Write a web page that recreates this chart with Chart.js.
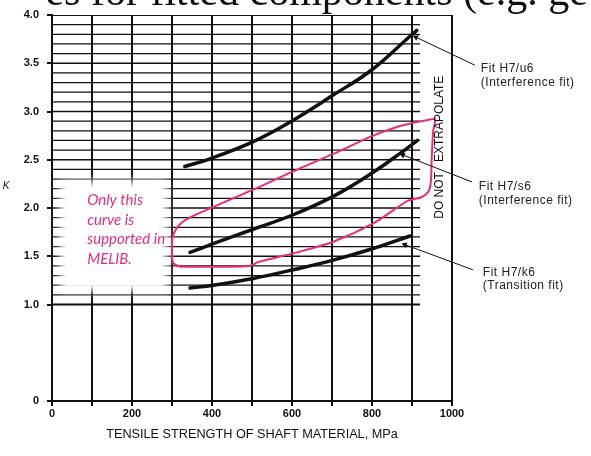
<!DOCTYPE html>
<html><head><meta charset="utf-8">
<script src="https://cdn.jsdelivr.net/npm/chart.js@4/dist/chart.umd.min.js"></script>
<style>html,body{margin:0;padding:0;background:#fff}#wrap{width:591px;height:456px;position:relative}</style>
</head><body><div id="wrap"><canvas id="c" width="591" height="456"></canvas></div>
<script>
// ---- data ----
const strengthU6 = [332, 395, 499, 599, 703, 799, 895, 912];
const kU6        = [2.43, 2.51, 2.68, 2.90, 3.17, 3.43, 3.78, 3.84];
const strengthS6 = [345, 403, 503, 603, 703, 803, 878, 914];
const kS6        = [1.54, 1.63, 1.78, 1.93, 2.12, 2.37, 2.59, 2.70];
const strengthK6 = [345, 403, 503, 603, 703, 803, 895];
const kK6        = [1.17, 1.20, 1.27, 1.36, 1.46, 1.58, 1.71];
// hand-drawn pink outline (closed loop)
const loopStrength = [320, 303, 300, 303, 328, 387, 503, 603, 703, 803, 870, 912, 937, 958, 953, 949, 945, 928, 903, 887, 803, 703, 603, 515, 495, 320];
const loopK        = [1.39, 1.43, 1.55, 1.72, 1.86, 1.98, 2.19, 2.38, 2.56, 2.75, 2.85, 2.89, 2.91, 2.92, 2.80, 2.49, 2.21, 2.12, 2.09, 2.07, 1.84, 1.65, 1.53, 1.44, 1.40, 1.39];
// tick labels
const xTickLabels = [0, 200, 400, 600, 800, 1000];
const yTickLabels = ['0', '1.0', '1.5', '2.0', '2.5', '3.0', '3.5', '4.0'];
// annotation texts
const fitLabels = [
  ['Fit H7/u6', '(Interference fit)'],
  ['Fit H7/s6', '(Interference fit)'],
  ['Fit H7/k6', '(Transition fit)']
];
const noteLines = ['Only this', 'curve is', 'supported in', 'MELIB.'];
const warnText = 'DO NOT   EXTRAPOLATE';
const xTitle = 'TENSILE STRENGTH OF SHAFT MATERIAL, MPa';
const yTitle = 'K';
const headline = 'es for fitted components (e.g. ge';

// ---- anchors (data units) ----
const arrowU6 = [{x: 910, y: 3.77}, {x: 1057, y: 3.48}];
const arrowS6 = [{x: 877, y: 2.55}, {x: 1050, y: 2.27}];
const arrowK6 = [{x: 882, y: 1.62}, {x: 1052, y: 1.36}];
const fitLabelAnchors = [{x: 1072, y: 3.44}, {x: 1067, y: 2.22}, {x: 1077, y: 1.33}];
const noteBox = {xMin: 20, xMax: 288, yMin: 1.14, yMax: 2.28};
const noteAnchor = {x: 88, y: 2.08};
const warnAnchor = {x: 970, y: 2.63};

const pts = (xs, ys) => xs.map((x, i) => ({x, y: ys[i]}));

// horizontal rulings of the chart paper
const gridPts = [];
for (let i = 10; i <= 40; i++) {
  const k = i / 10;
  gridPts.push({x: 0, y: k}, {x: i === 40 ? 1000 : 920, y: k}, {x: 0, y: null});
}

const INK = '#111';
const PINK = '#ec2a7b';
const isLabeled = v => { const r = Math.round(v * 10); return r === 0 || (r >= 10 && r % 5 === 0); };

function arrowRot(ctx) {
  const d = ctx.dataset.data;
  const xs = ctx.chart.scales.x, ys = ctx.chart.scales.y;
  const dx = xs.getPixelForValue(d[0].x) - xs.getPixelForValue(d[1].x);
  const dy = ys.getPixelForValue(d[0].y) - ys.getPixelForValue(d[1].y);
  return Math.atan2(dx, -dy) * 180 / Math.PI;
}
const arrowDs = (data) => ({
  label: 'arrow', data, borderColor: INK, borderWidth: 1, clip: false, tension: 0,
  pointStyle: 'triangle', pointRadius: c => c.dataIndex === 0 ? 3.5 : 0,
  pointBackgroundColor: INK, pointBorderWidth: 0, pointRotation: arrowRot, order: 1
});

const overlay = {
  id: 'overlay',
  afterDatasetDraw(chart, args) {
    if (chart.data.datasets[args.index].label !== 'grid') return;
    const X = v => chart.scales.x.getPixelForValue(v), Y = v => chart.scales.y.getPixelForValue(v);
    const ctx = chart.ctx;
    const x0 = X(noteBox.xMin), x1 = X(noteBox.xMax), y0 = Y(noteBox.yMax), y1 = Y(noteBox.yMin);
    ctx.save();
    ctx.fillStyle = '#fff';
    ctx.filter = 'blur(4px)';
    ctx.fillRect(x0, y0, x1 - x0, y1 - y0);
    ctx.filter = 'none';
    ctx.fillRect(x0 + 6, y0 + 6, x1 - x0 - 12, y1 - y0 - 12);
    ctx.restore();
  },
  afterDraw(chart) {
    const X = v => chart.scales.x.getPixelForValue(v), Y = v => chart.scales.y.getPixelForValue(v);
    const ctx = chart.ctx;
    ctx.save();
    // note text
    ctx.fillStyle = PINK;
    ctx.font = 'italic 15px Lato';
    ctx.textBaseline = 'middle';
    ctx.textAlign = 'left';
    noteLines.forEach((t, i) => ctx.fillText(t, X(noteAnchor.x), Y(noteAnchor.y) + i * 19.5));
    // fit labels
    ctx.fillStyle = '#222';
    ctx.font = '12px "Liberation Sans", Arial, sans-serif';
    try { ctx.letterSpacing = '0.5px'; } catch (e) {}
    fitLabels.forEach((lines, j) => {
      lines.forEach((t, i) => ctx.fillText(t, X(fitLabelAnchors[j].x), Y(fitLabelAnchors[j].y) + i * 13.5));
    });
    try { ctx.letterSpacing = '0px'; } catch (e) {}
    // warning text
    ctx.save();
    ctx.translate(X(warnAnchor.x), Y(warnAnchor.y));
    ctx.rotate(-Math.PI / 2);
    ctx.textAlign = 'center';
    ctx.fillStyle = INK;
    ctx.font = '12px "Liberation Sans", Arial, sans-serif';
    ctx.fillText(warnText, 0, 0);
    ctx.restore();
    // K
    ctx.fillStyle = INK;
    ctx.font = 'italic 10px "Liberation Sans", Arial, sans-serif';
    ctx.textAlign = 'center';
    ctx.fillText(yTitle, 6, 186);
    // cropped headline from the slide
    ctx.font = '42px "Liberation Serif", serif';
    ctx.textAlign = 'left';
    ctx.textBaseline = 'alphabetic';
    const pre = headline.slice(0, headline.indexOf('('));
    ctx.fillText(headline, 463 - ctx.measureText(pre).width, 5);
    ctx.restore();
  }
};

new Chart(document.getElementById('c'), {
  type: 'line',
  data: {
    datasets: [
      {label: 'grid', data: gridPts, borderColor: INK, borderWidth: 1.3, pointRadius: 0, spanGaps: false, tension: 0, order: 10,
       segment: {borderWidth: c => (c.p0.parsed.y === 1 || c.p0.parsed.y === 4) ? 2 : 1.3}},
      {label: 'loop', data: pts(loopStrength, loopK), borderColor: PINK, borderWidth: 2, pointRadius: 0, tension: 0.3, clip: false, order: 2},
      {label: 'H7/u6', data: pts(strengthU6, kU6), borderColor: INK, borderWidth: 3.5, pointRadius: 0, tension: 0.4, borderCapStyle: 'round', order: 0},
      {label: 'H7/s6', data: pts(strengthS6, kS6), borderColor: INK, borderWidth: 3.5, pointRadius: 0, tension: 0.4, borderCapStyle: 'round', order: 0},
      {label: 'H7/k6', data: pts(strengthK6, kK6), borderColor: INK, borderWidth: 3.5, pointRadius: 0, tension: 0.4, borderCapStyle: 'round', order: 0},
      arrowDs(arrowU6), arrowDs(arrowS6), arrowDs(arrowK6)
    ]
  },
  options: {
    responsive: false, animation: false, devicePixelRatio: 1,
    layout: {padding: {top: 15, right: 139, left: 0, bottom: 0}},
    plugins: {legend: {display: false}, tooltip: {enabled: false}},
    scales: {
      x: {
        type: 'linear', min: 0, max: 1000,
        afterFit: s => { s.height = 55; },
        ticks: {stepSize: 100, autoSkip: false, maxRotation: 0, padding: 1, color: INK,
          font: {family: '"Liberation Sans", Arial, sans-serif', size: 11, weight: 'bold'},
          callback: v => xTickLabels.includes(v) ? String(v) : ''},
        grid: {color: INK, lineWidth: 2, tickLength: 5},
        border: {color: INK, width: 2},
        title: {display: true, text: xTitle, color: INK, padding: {top: 0, bottom: 14},
          font: {family: '"Liberation Sans", Arial, sans-serif', size: 12.7}}
      },
      y: {
        type: 'linear', min: 0, max: 4,
        afterFit: s => { s.width = 52; },
        ticks: {stepSize: 0.1, autoSkip: false, padding: 8, color: INK,
          font: {family: '"Liberation Sans", Arial, sans-serif', size: 11, weight: 'bold'},
          callback: v => { if (!isLabeled(v)) return ''; const r = Math.round(v * 10); return r === 0 ? yTickLabels[0] : yTickLabels[(r - 10) / 5 + 1]; }},
        grid: {drawOnChartArea: false, tickLength: 5, lineWidth: 2, color: c => isLabeled(c.tick.value) ? INK : 'rgba(0,0,0,0)'},
        border: {color: INK, width: 2}
      }
    }
  },
  plugins: [overlay]
});
</script></body></html>
